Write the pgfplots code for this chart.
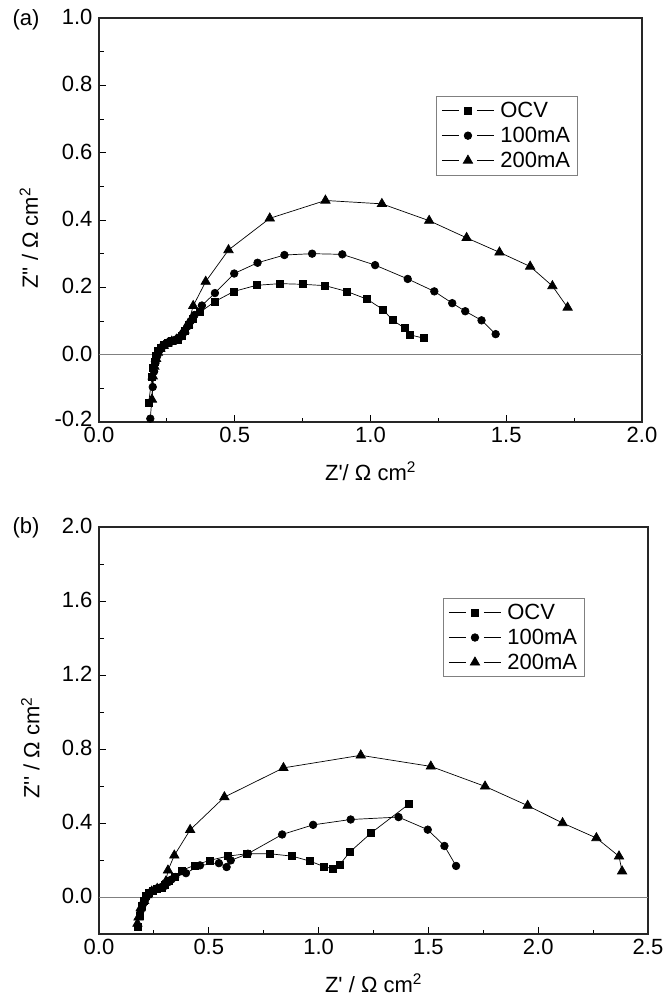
\documentclass[border=0pt]{standalone}
\usepackage{fontspec}
\setmainfont{Liberation Sans}
\usepackage{pgfplots}
\pgfplotsset{compat=1.18}
\newcommand{\fs}{\fontsize{22}{26}\selectfont}
\begin{document}
\begin{tikzpicture}
\pgfplotsset{
  eis/.style={
    scale only axis,
    axis line style={line width=1.5pt, black!85},
    tick align=inside,
    tick pos=left,
    major tick length=7pt, minor tick length=4.5pt,
    every tick/.style={black, line width=1pt},
    font=\fs,
    tick label style={font=\fs},
    xticklabel style={yshift=-4pt, inner ysep=1pt, /pgf/number format/.cd, fixed, fixed zerofill, precision=1, assume math mode=true},
    yticklabel style={xshift=-3pt, inner ysep=1pt, yshift=1pt, /pgf/number format/.cd, fixed, fixed zerofill, precision=1, assume math mode=true},
    xlabel style={at={(axis description cs:0.5,0)}, anchor=base, yshift=-58pt},
    clip=false,
    legend style={draw=gray, line width=0.8pt, font=\fs, row sep=4pt, inner xsep=5pt, inner ysep=4pt},
    legend cell align=left,
    legend image code/.code={%
      \draw[##1, mark=none] (0pt,0pt) -- (17pt,0pt);
      \draw[##1, mark=none] (35pt,0pt) -- (52pt,0pt);
      \draw[##1, only marks] plot coordinates {(26pt,0pt)};
      \path (56pt,0pt);},
    every axis plot/.append style={black, line width=0.7pt, mark options={solid, fill=black}},
  },
  ocv/.style={mark=square*, mark size=3.5pt},
  ma1/.style={mark=*, mark size=3.8pt},
  ma2/.style={mark=triangle*, mark size=5.4pt},
}
% ---------------- (a) ----------------
\begin{axis}[eis,
  at={(99pt,-422pt)}, anchor=south west, width=543pt, height=404pt,
  xmin=0, xmax=2, ymin=-0.2, ymax=1.0,
  xtick={0,0.5,1,1.5,2},
  minor xtick={0.25,0.75,1.25,1.75},
  ytick={-0.2,0,0.2,0.4,0.6,0.8,1.0},
  yticklabels={\raisebox{4pt}{-0.2},0.0,0.2,0.4,0.6,0.8,1.0},
  minor ytick={-0.1,0.1,0.3,0.5,0.7,0.9},
  xlabel={Z\textquotesingle/ Ω cm\textsuperscript{2}},
  ylabel={Z\textquotesingle\textquotesingle\ / Ω cm\textsuperscript{2}},
  ylabel style={at={(axis description cs:-0.129,0.455)}, anchor=center},
  legend style={at={(0.621,0.807)}, anchor=north west},
]
\addplot[gray, line width=0.9pt, no marks, forget plot] coordinates {(0,0) (2,0)};
\addplot[ocv] coordinates {
(0.183,-0.143) (0.195,-0.067) (0.200,-0.040) (0.205,-0.020) (0.210,-0.003) (0.218,0.010)
(0.228,0.020) (0.240,0.028) (0.255,0.035) (0.270,0.040) (0.290,0.045) (0.305,0.055)
(0.318,0.072) (0.330,0.090) (0.345,0.105) (0.372,0.126) (0.427,0.158) (0.497,0.188)
(0.580,0.206) (0.667,0.211) (0.751,0.209) (0.833,0.205) (0.912,0.188) (0.987,0.165)
(1.046,0.134) (1.082,0.102) (1.126,0.079) (1.145,0.059) (1.196,0.049)};
\addlegendentry{OCV}
\addplot[ma1] coordinates {
(0.189,-0.190) (0.198,-0.096) (0.203,-0.050) (0.208,-0.025) (0.214,-0.005) (0.222,0.012)
(0.232,0.022) (0.245,0.030) (0.262,0.037) (0.280,0.044) (0.298,0.052) (0.312,0.066)
(0.325,0.083) (0.338,0.100) (0.352,0.118) (0.379,0.146) (0.427,0.183) (0.498,0.241)
(0.584,0.273) (0.683,0.296) (0.785,0.300) (0.896,0.298) (1.017,0.266) (1.137,0.225)
(1.235,0.188) (1.301,0.153) (1.349,0.129) (1.409,0.102) (1.461,0.061)};
\addlegendentry{100mA}
\addplot[ma2] coordinates {
(0.195,-0.133) (0.198,-0.064) (0.204,-0.035) (0.210,-0.012) (0.217,0.006) (0.226,0.018)
(0.238,0.026) (0.252,0.033) (0.268,0.039) (0.285,0.045) (0.300,0.056) (0.315,0.072)
(0.328,0.090) (0.347,0.145) (0.393,0.217) (0.477,0.311) (0.629,0.405) (0.834,0.458)
(1.042,0.448) (1.216,0.398) (1.354,0.347) (1.475,0.304) (1.588,0.262) (1.670,0.204)
(1.726,0.140)};
\addlegendentry{200mA}
\end{axis}
% ---------------- (b) ----------------
\begin{axis}[eis,
  at={(99pt,-934pt)}, anchor=south west, width=549pt, height=407pt,
  xmin=0, xmax=2.5, ymin=-0.2, ymax=2.0,
  xtick={0,0.5,1,1.5,2,2.5},
  minor xtick={0.25,0.75,1.25,1.75,2.25},
  ytick={0,0.4,0.8,1.2,1.6,2.0},
  minor ytick={-0.2,0.2,0.6,1.0,1.4,1.8},
  xlabel={Z\textquotesingle\ / Ω cm\textsuperscript{2}},
  ylabel={Z\textquotesingle\textquotesingle\ / Ω cm\textsuperscript{2}},
  ylabel style={at={(axis description cs:-0.125,0.457)}, anchor=center},
  legend style={at={(0.627,0.826)}, anchor=north west},
]
\addplot[gray, line width=0.9pt, no marks, forget plot] coordinates {(0,0) (2.5,0)};
\addplot[ocv] coordinates {
(0.177,-0.162) (0.185,-0.100) (0.195,-0.050) (0.205,-0.020) (0.215,0.005) (0.228,0.022)
(0.245,0.035) (0.265,0.045) (0.285,0.050) (0.300,0.065) (0.318,0.090) (0.345,0.110)
(0.376,0.144) (0.435,0.171) (0.503,0.198) (0.587,0.221) (0.674,0.234) (0.776,0.234)
(0.879,0.221) (0.961,0.194) (1.023,0.165) (1.064,0.153) (1.097,0.176) (1.142,0.243)
(1.240,0.347) (1.413,0.504)};
\addlegendentry{OCV}
\addplot[ma1] coordinates {
(0.189,-0.076) (0.200,-0.040) (0.212,-0.010) (0.225,0.012) (0.240,0.030) (0.260,0.045)
(0.280,0.052) (0.300,0.060) (0.315,0.080) (0.330,0.095) (0.347,0.108) (0.396,0.129)
(0.460,0.171) (0.546,0.183) (0.581,0.162) (0.600,0.198) (0.678,0.234) (0.834,0.338)
(0.975,0.390) (1.146,0.419) (1.364,0.432) (1.497,0.364) (1.573,0.276) (1.626,0.168)};
\addlegendentry{100mA}
\addplot[ma2] coordinates {
(0.175,-0.144) (0.180,-0.110) (0.190,-0.060) (0.205,-0.020) (0.220,0.010) (0.240,0.030)
(0.265,0.045) (0.290,0.060) (0.305,0.085) (0.314,0.144) (0.343,0.225) (0.415,0.363)
(0.571,0.540) (0.840,0.698) (1.192,0.766) (1.511,0.706) (1.758,0.598) (1.952,0.494)
(2.111,0.400) (2.265,0.319) (2.368,0.220) (2.382,0.139)};
\addlegendentry{200mA}
\end{axis}
\node[font=\fs] at (26pt,-20pt) {(a)};
\node[font=\fs] at (26pt,-528pt) {(b)};
\pgfresetboundingbox
\path[use as bounding box] (0pt,0pt) rectangle (670pt,-997pt);
\end{tikzpicture}
\end{document}
